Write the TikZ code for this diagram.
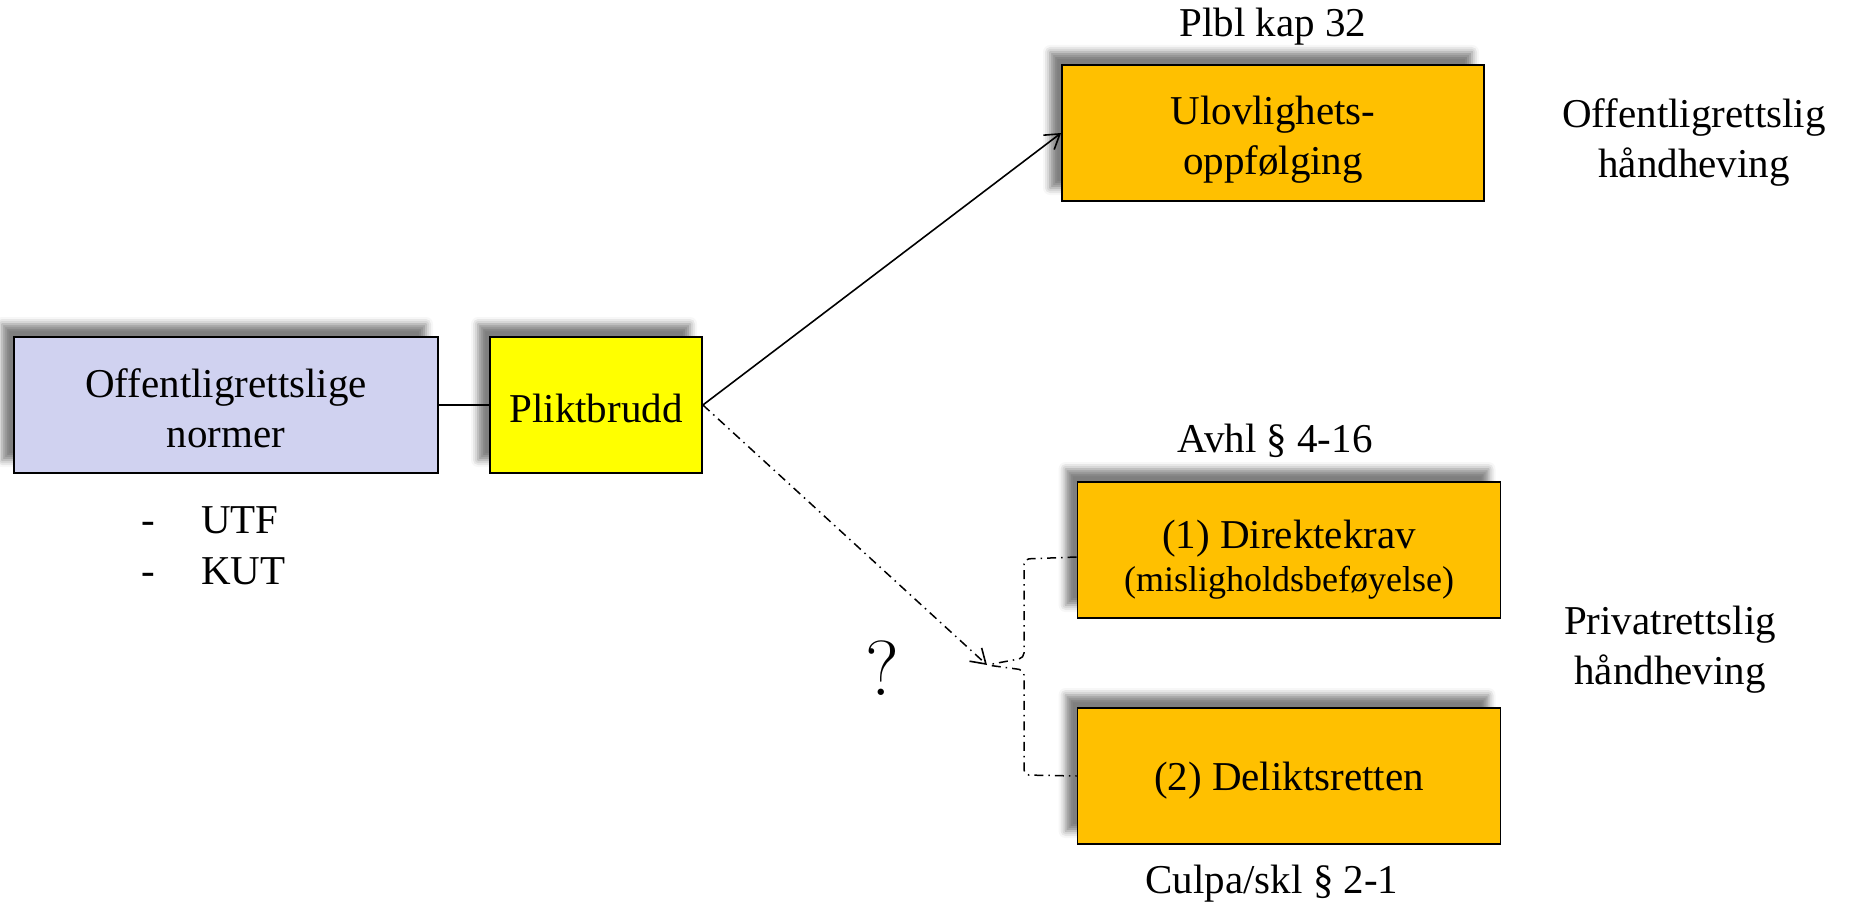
\documentclass[tikz,border=0pt]{standalone}
\usepackage{fontspec}
\setmainfont{Liberation Serif}
\newfontfamily\qfont{Latin Modern Roman}
\usetikzlibrary{arrows.meta,shadows.blur}
\definecolor{lav}{RGB}{208,210,240}
\definecolor{orng}{RGB}{255,192,0}
\definecolor{yel}{RGB}{255,255,0}
\begin{document}
\begin{tikzpicture}[x=1pt,y=-1pt,
  big/.style={font=\fontsize{41}{50}\selectfont},
  small/.style={font=\fontsize{36}{44}\selectfont},
  box/.style={draw=black,line width=1.8pt,minimum height=136pt,inner sep=0pt,
    align=center,big,
    blur shadow={shadow xshift=-12pt,shadow yshift=13pt,shadow blur radius=7pt,shadow opacity=50}},
  lbl/.style={inner sep=0pt,align=center,big},
  conn/.style={line width=1.6pt},
  dd/.style={line width=1.5pt,dash pattern=on 9pt off 5pt on 1.5pt off 5pt},
  tip/.style={-{Straight Barb[length=14pt,width=18pt,line width=1.6pt]}}]
\useasboundingbox (0,0) rectangle (1856,909);
% boxes
\node[box,fill=lav,minimum width=424pt] (norm) at (226,405) {};
\node[lbl] (normt) at (226,408) {Offentligrettslige\\normer};
\node[box,fill=yel,minimum width=212pt] (plikt) at (596,405) {};
\node[lbl] (plikttxt) at (596,408) {Pliktbrudd};
\node[box,fill=orng,minimum width=422pt] (ulov) at (1273,133) {};
\node[lbl] (ulovt) at (1273,140) {Ulovlighets-\\oppfølging};
\node[box,fill=orng,minimum width=423pt] (dir) at (1289,550) {};
\node[lbl] (dirt) at (1289,539) {(1) Direktekrav};
\node[lbl,small] (dirs) at (1289,583) {(misligholdsbeføyelse)};
\node[box,fill=orng,minimum width=423pt] (del) at (1289,776) {};
\node[lbl] (delt) at (1289,781) {(2) Deliktsretten};
% labels
\node[lbl] (plbl) at (1273,27) {Plbl kap 32};
\node[lbl] (avhl) at (1275,441) {Avhl § 4-16};
\node[lbl] (culpa) at (1272,884) {Culpa/skl § 2-1};
\node[lbl] (offh) at (1694,142) {Offentligrettslig\\håndheving};
\node[lbl] (privh) at (1670,650) {Privatrettslig\\håndheving};
\node[lbl,anchor=base] (d1) at (148,533) {-};
\node[lbl,anchor=base west] (utf) at (201,533) {UTF};
\node[lbl,anchor=base] (d2) at (148,584) {-};
\node[lbl,anchor=base west] (kut) at (201,584) {KUT};
\node[inner sep=0pt,font=\qfont\fontsize{78}{80}\selectfont] (q) at (882,668) {?};
% connectors
\coordinate (btip) at (987,665);
\draw[conn] (norm.east) -- (plikt.west);
\draw[conn,tip] (plikt.east) -- (ulov.west);
\draw[dd,tip] (plikt.east) -- (btip);
\draw[dd,rounded corners=5pt] (dir.west |- 0,557) -- (1024,559) -- (1024,658) -- (btip)
  -- (1024,670) -- (1024,775) -- (del.west |- 0,776);
\end{tikzpicture}
\end{document}
